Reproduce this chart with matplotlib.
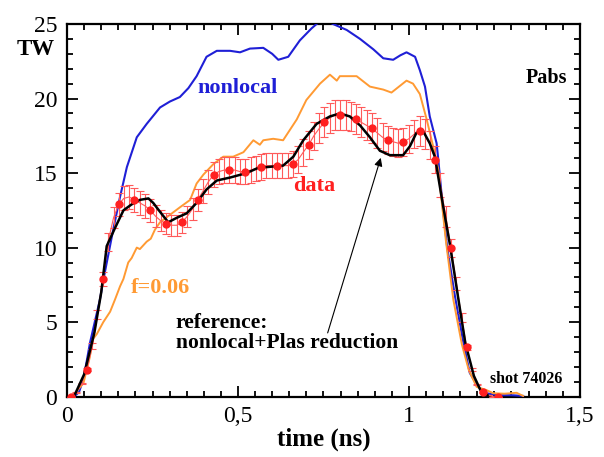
import numpy as np
import matplotlib
matplotlib.use("Agg")
import matplotlib.pyplot as plt
from matplotlib.ticker import MultipleLocator, FixedLocator

plt.rcParams['font.family'] = ['Liberation Serif', 'DejaVu Serif']

# nonlocal model (blue)
t_nonlocal = [0.02, 0.035, 0.048, 0.053, 0.067, 0.077, 0.096, 0.106, 0.135, 0.155, 0.175, 0.204,
              0.233, 0.272, 0.301, 0.330, 0.355, 0.379, 0.408, 0.438, 0.477, 0.506, 0.535, 0.574,
              0.600, 0.618, 0.647, 0.681, 0.715, 0.735, 0.760, 0.778, 0.818, 0.857, 0.896, 0.925,
              0.954, 0.975, 0.993, 1.018, 1.032, 1.047, 1.061, 1.081, 1.086, 1.100, 1.112, 1.135,
              1.158, 1.178, 1.202, 1.227, 1.260, 1.300, 1.334]
p_nonlocal = [0.0, 0.3, 1.2, 1.8, 3.6, 4.6, 6.5, 7.8, 11.2, 13.4, 15.4, 17.4,
              18.3, 19.4, 19.8, 20.1, 20.7, 21.5, 22.8, 23.2, 23.2, 23.1, 23.35, 23.4,
              23.0, 22.6, 22.8, 23.9, 24.7, 25.1, 25.2, 25.0, 24.6, 24.0, 23.3, 22.7,
              22.6, 22.9, 23.1, 22.8, 21.9, 20.8, 18.8, 17.0, 15.9, 12.5, 10.0, 6.7,
              3.8, 1.6, 0.66, 0.23, 0.1, 0.1, 0.05]

# f=0.06 flux limiter (orange)
t_flim = [0.018, 0.048, 0.065, 0.077, 0.087, 0.106, 0.126, 0.140, 0.155, 0.165, 0.179, 0.189,
          0.204, 0.213, 0.233, 0.245, 0.257, 0.272, 0.301, 0.330, 0.360, 0.379, 0.399, 0.428,
          0.457, 0.486, 0.516, 0.545, 0.564, 0.574, 0.603, 0.632, 0.672, 0.700, 0.740, 0.769,
          0.789, 0.798, 0.847, 0.886, 0.925, 0.949, 0.993, 1.012, 1.032, 1.052, 1.076, 1.086,
          1.108, 1.130, 1.155, 1.175, 1.198, 1.227, 1.247, 1.280, 1.315, 1.334]
p_flim = [0.1, 0.9, 2.5, 3.9, 4.2, 5.0, 5.7, 6.5, 7.4, 7.9, 9.0, 9.3,
          10.0, 9.9, 10.4, 10.6, 11.2, 11.7, 12.2, 12.7, 13.2, 14.3, 14.9, 15.6,
          16.1, 16.1, 16.4, 17.2, 16.9, 17.2, 17.3, 17.2, 18.6, 19.9, 21.0, 21.6,
          21.2, 21.5, 21.5, 20.8, 20.6, 20.4, 21.2, 21.0, 20.3, 18.6, 16.3, 15.2,
          10.5, 6.5, 3.5, 1.8, 0.66, 0.44, 0.23, 0.2, 0.26, 0.05]

# reference: nonlocal + Plas reduction (black)
t_ref = [0.02, 0.05, 0.08, 0.10, 0.116, 0.140, 0.165, 0.189, 0.213, 0.238, 0.252, 0.272,
         0.296, 0.321, 0.350, 0.379, 0.408, 0.438, 0.477, 0.525, 0.564, 0.584, 0.632, 0.662,
         0.691, 0.730, 0.769, 0.798, 0.827, 0.857, 0.886, 0.915, 0.944, 0.983, 1.003, 1.022,
         1.042, 1.061, 1.076, 1.100, 1.120, 1.145, 1.165, 1.190, 1.210, 1.230]
p_ref = [0.0, 1.5, 4.3, 7.0, 10.1, 11.3, 12.5, 12.9, 13.2, 13.3, 13.0, 12.4,
         11.7, 12.0, 12.3, 13.0, 13.9, 14.5, 14.7, 15.0, 15.4, 15.4, 15.5, 16.1,
         17.2, 18.3, 18.8, 19.0, 18.8, 18.2, 17.4, 16.5, 16.2, 16.2, 16.8, 17.7,
         17.8, 17.0, 16.1, 12.8, 10.2, 6.5, 3.6, 1.4, 0.4, 0.1]

# measured data with error bars
t_data = [0.012, 0.027, 0.043, 0.058, 0.074, 0.089, 0.105, 0.120, 0.136, 0.151, 0.166, 0.182,
          0.197, 0.213, 0.228, 0.244, 0.259, 0.274, 0.290, 0.305, 0.321, 0.336, 0.352, 0.367,
          0.382, 0.398, 0.413, 0.429, 0.444, 0.460, 0.475, 0.490, 0.506, 0.521, 0.537, 0.552,
          0.568, 0.583, 0.599, 0.614, 0.629, 0.645, 0.660, 0.676, 0.691, 0.707, 0.722, 0.738,
          0.753, 0.768, 0.784, 0.799, 0.815, 0.830, 0.845, 0.861, 0.876, 0.892, 0.907, 0.923,
          0.938, 0.954, 0.969, 0.984, 1.000, 1.015, 1.031, 1.046, 1.062, 1.077, 1.092, 1.108,
          1.123, 1.139, 1.154, 1.169, 1.185, 1.200, 1.216, 1.231, 1.247, 1.262]
p_data = [0.0, 0.3, 0.9, 1.8, 3.4, 5.5, 7.9, 10.4, 12.0, 12.9, 13.3, 13.4,
          13.2, 13.0, 12.8, 12.5, 12.1, 11.8, 11.6, 11.5, 11.5, 11.7, 12.1, 12.6,
          13.2, 13.8, 14.4, 14.9, 15.1, 15.2, 15.2, 15.2, 15.1, 15.1, 15.2, 15.3,
          15.4, 15.5, 15.5, 15.5, 15.5, 15.5, 15.6, 15.9, 16.4, 16.9, 17.5, 18.0,
          18.4, 18.7, 18.9, 18.9, 18.9, 18.8, 18.6, 18.4, 18.2, 18.0, 17.7, 17.4,
          17.2, 17.1, 17.0, 17.1, 17.3, 17.6, 17.8, 17.6, 16.9, 15.9, 14.2, 12.1,
          10.0, 7.6, 5.3, 3.3, 1.8, 0.8, 0.3, 0.1, 0.0, -0.05]
err_data = [0.0, 0.02, 0.05, 0.1, 0.2, 0.3, 0.45, 0.6, 0.7, 0.75, 0.8, 0.8,
            0.8, 0.8, 0.8, 0.75, 0.75, 0.7, 0.7, 0.7, 0.7, 0.7, 0.7, 0.75,
            0.75, 0.8, 0.8, 0.85, 0.85, 0.85, 0.85, 0.85, 0.85, 0.85, 0.85, 0.85,
            0.85, 0.85, 0.85, 0.85, 0.85, 0.85, 0.85, 0.9, 0.9, 0.95, 0.95, 1.0,
            1.0, 1.0, 1.0, 1.0, 1.0, 1.0, 1.0, 1.0, 1.0, 1.0, 1.0, 0.95,
            0.95, 0.95, 0.95, 0.95, 0.95, 0.95, 1.0, 1.0, 0.95, 0.9, 0.8, 0.7,
            0.6, 0.45, 0.3, 0.2, 0.1, 0.05, 0.02, 0.0, 0.0, 0.0]
dot_step = 3  # big markers on every third sample

blue = '#1f1fd6'
orange = '#ff9a33'
red = '#ff2020'

fig = plt.figure(figsize=(6.04, 4.57), dpi=100)
ax = fig.add_axes([0.111, 0.132, 0.849, 0.8155])

ax.plot(t_nonlocal, p_nonlocal, color=blue, lw=1.5, zorder=3)
ax.plot(t_flim, p_flim, color=orange, lw=1.4, zorder=3)
ax.errorbar(t_data, p_data, yerr=err_data, color='#ff5a5a', lw=0.8, elinewidth=0.8,
            capsize=3, capthick=0.8, zorder=4)
ax.plot(t_data[::dot_step], p_data[::dot_step], 'o', color=red, ms=5, zorder=6)
ax.plot(t_ref, p_ref, color='black', lw=1.8, zorder=5)

ax.set_xlim(0, 1.5)
ax.set_ylim(0, 25)
ax.xaxis.set_major_locator(FixedLocator([0, 0.5, 1, 1.5]))
ax.set_xticklabels(['0', '0,5', '1', '1,5'])
ax.xaxis.set_minor_locator(MultipleLocator(0.05))
ax.yaxis.set_major_locator(MultipleLocator(5))
ax.yaxis.set_minor_locator(MultipleLocator(1))
ax.tick_params(which='both', direction='in', top=True, right=True, labelsize=17, width=1.3)
ax.tick_params(which='major', length=8, pad=7)
ax.tick_params(which='minor', length=4.5)
for s in ax.spines.values():
    s.set_linewidth(1.6)

ax.set_xlabel('time (ns)', fontsize=18, fontweight='bold', labelpad=0)
ax.text(-0.062, 23.3, 'TW', transform=ax.get_yaxis_transform(), fontsize=16.5,
        fontweight='bold', ha='center', va='center')

ax.text(0.975, 21.4, 'Pabs', fontsize=14.5, fontweight='bold', ha='right', va='center',
        transform=ax.get_yaxis_transform())
ax.text(0.38, 20.7, 'nonlocal', color=blue, fontsize=16, fontweight='bold', va='center')
ax.text(0.722, 14.1, 'data', color=red, fontsize=16, fontweight='bold', ha='center', va='center')
ax.text(0.272, 7.3, 'f=0.06', color=orange, fontsize=16, fontweight='bold', ha='center', va='center')
ax.text(0.318, 4.3, 'reference:\nnonlocal+Plas reduction', fontsize=15.5, fontweight='bold',
        va='center', linespacing=1.0)
ax.text(1.342, 1.17, 'shot 74026', fontsize=11.5, fontweight='bold', ha='center', va='center')
ax.annotate('', xy=(0.92, 16.2), xytext=(0.76, 4.1),
            arrowprops=dict(arrowstyle='-|>', color='black', lw=0.8, mutation_scale=12))

fig.savefig('out.png', dpi=100)
